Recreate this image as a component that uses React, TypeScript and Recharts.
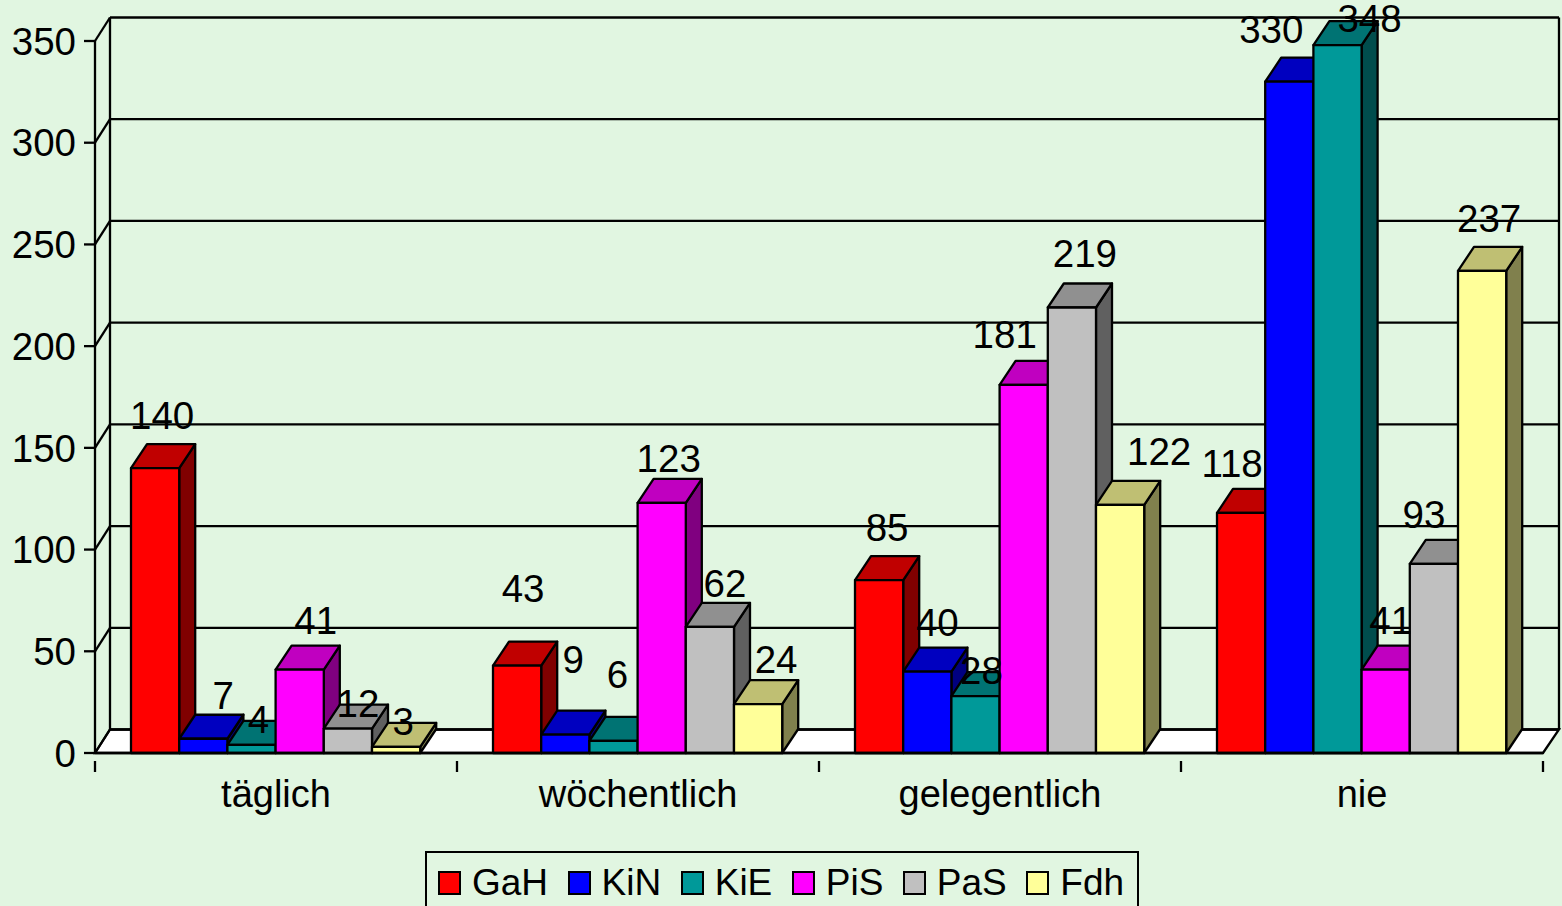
import * as React from 'react';
import { Bar, BarChart, CartesianGrid, LabelList, Legend, XAxis, YAxis } from 'recharts';

const categories = ['täglich', 'wöchentlich', 'gelegentlich', 'nie'];
const seriesNames = ['GaH', 'KiN', 'KiE', 'PiS', 'PaS', 'Fdh'];

const gah = [140, 43, 85, 118];
const kin = [7, 9, 40, 330];
const kie = [4, 6, 28, 348];
const pis = [41, 123, 181, 41];
const pas = [12, 62, 219, 93];
const fdh = [3, 24, 122, 237];

const yTicks = [0, 50, 100, 150, 200, 250, 300, 350];

const data = categories.map((name, i) => ({
  name,
  GaH: gah[i],
  KiN: kin[i],
  KiE: kie[i],
  PiS: pis[i],
  PaS: pas[i],
  Fdh: fdh[i],
}));

const WIDTH = 1562;
const HEIGHT = 906;
const PLOT_LEFT = 95;
const PLOT_RIGHT = 1543;
const PLOT_TOP = 41;
const PLOT_BOTTOM = 753;
const DEPTH_X = 16;
const DEPTH_Y = 24;
const WALL_LEFT = 110;
const WALL_DROP = 23.5;
const BAR_SIZE = 48.2;
const BAND = (PLOT_RIGHT - PLOT_LEFT) / categories.length;
const FONT = '"Liberation Sans", Arial, sans-serif';
const LINE = 2.3;

// front, top and side faces of each series
const faces: Record<string, [string, string, string]> = {
  GaH: ['#FF0000', '#C00000', '#800000'],
  KiN: ['#0000FF', '#0000C0', '#000080'],
  KiE: ['#009999', '#007373', '#004D4D'],
  PiS: ['#FF00FF', '#C000C0', '#800080'],
  PaS: ['#C0C0C0', '#909090', '#606060'],
  Fdh: ['#FFFF99', '#BFBF73', '#80804D'],
};

// Excel left the value labels wherever it liked, so each one gets its own nudge
const labelNudges: Record<string, [number, number][]> = {
  GaH: [[7, -53], [6, -77], [8, -53], [-9, -49]],
  KiN: [[20, -43], [8, -75], [10, -49], [-18, -52]],
  KiE: [[7, -25], [4, -66], [6, -26], [32, -27]],
  PiS: [[16, -49], [7, -44], [-19, -50], [5, -49]],
  PaS: [[10, -25], [15, -43], [13, -54], [-10, -49]],
  Fdh: [[7, -25], [18, -45], [39, -53], [7, -52]],
};

function Bar3D({ x, y, width, height, name }: any) {
  const [front, top, side] = faces[name];
  const right = x + width;
  const bottom = y + height;
  const edge = { stroke: '#000', strokeWidth: LINE, strokeLinejoin: 'round' as const };

  return (
    <g>
      <polygon
        points={`${right},${bottom} ${right + DEPTH_X},${bottom - DEPTH_Y} ${right + DEPTH_X},${y - DEPTH_Y} ${right},${y}`}
        fill={side}
        {...edge}
      />
      <polygon
        points={`${x},${y} ${x + DEPTH_X},${y - DEPTH_Y} ${right + DEPTH_X},${y - DEPTH_Y} ${right},${y}`}
        fill={top}
        {...edge}
      />
      <rect x={x} y={y} width={width} height={height} fill={front} {...edge} />
    </g>
  );
}

// one back-wall gridline plus its step across the side wall
function GridLine({ x1, y1, x2 }: any) {
  const line = { stroke: '#000', strokeWidth: LINE };
  const isFloor = Math.abs(y1 - PLOT_BOTTOM) < 1;
  const back = y1 - WALL_DROP;
  const wallRight = x2 + DEPTH_X;

  return (
    <g>
      {isFloor && (
        <>
          <polygon points={`${x1},${y1} ${WALL_LEFT},${back} ${wallRight},${back} ${x2},${y1}`} fill="#fff" {...line} />
          <line x1={WALL_LEFT} y1={PLOT_TOP - WALL_DROP} x2={WALL_LEFT} y2={back} {...line} />
          <line x1={wallRight} y1={PLOT_TOP - WALL_DROP} x2={wallRight} y2={back} {...line} />
        </>
      )}
      <line x1={x1} y1={y1} x2={WALL_LEFT} y2={back} {...line} />
      <line x1={WALL_LEFT} y1={back} x2={wallRight} y2={back} {...line} />
    </g>
  );
}

// category ticks sit on the band edges, not the centres
function CategoryTick({ x, y, payload, index }: any) {
  const left = x - BAND / 2;
  const mark = { stroke: '#000', strokeWidth: LINE };

  return (
    <g>
      <line x1={left} y1={y} x2={left} y2={y + 11} {...mark} />
      {index === categories.length - 1 && (
        <line x1={left + BAND} y1={y} x2={left + BAND} y2={y + 11} {...mark} />
      )}
      <text x={x} y={794} textAnchor="middle" dominantBaseline="central" fontSize={38} fontFamily={FONT} fill="#000">
        {payload.value}
      </text>
    </g>
  );
}

function ValueLabel({ x, y, width, value, index, name }: any) {
  const [dx, dy] = labelNudges[name][index];

  return (
    <text
      x={x + width / 2 + dx}
      y={y + dy}
      textAnchor="middle"
      dominantBaseline="central"
      fontSize={38.5}
      fontFamily={FONT}
      fill="#000"
    >
      {value}
    </text>
  );
}

function LegendBox({ payload }: any) {
  const items = (payload ?? []).filter((item: any) => item.type !== 'none');

  return (
    <div
      style={{
        boxSizing: 'border-box',
        width: 714,
        height: 80,
        border: `${LINE}px solid #000`,
        paddingLeft: 11,
        paddingTop: 17,
        display: 'flex',
        alignItems: 'flex-start',
        fontFamily: FONT,
        fontSize: 37,
        lineHeight: '25px',
        color: '#000',
      }}
    >
      {items.map((item: any) => (
        <div key={item.value} style={{ display: 'flex', alignItems: 'center', marginRight: 19.5 }}>
          <span
            style={{
              boxSizing: 'border-box',
              width: 23,
              height: 24,
              marginRight: 11,
              border: '2px solid #000',
              background: item.color,
            }}
          />
          {item.value}
        </div>
      ))}
    </div>
  );
}

export default function App() {
  return (
    <div
      style={{
        position: 'absolute',
        left: 0,
        top: 0,
        width: WIDTH,
        height: HEIGHT,
        overflow: 'hidden',
        background: '#E1F6E1',
      }}
    >
      <BarChart
        width={WIDTH}
        height={HEIGHT}
        data={data}
        barGap={0}
        barSize={BAR_SIZE}
        margin={{ left: PLOT_LEFT - 70, right: WIDTH - PLOT_RIGHT, top: PLOT_TOP, bottom: 0 }}
      >
        <CartesianGrid horizontal={(props: any) => <GridLine key={props.y1} {...props} />} vertical={false} />
        <XAxis
          dataKey="name"
          height={HEIGHT - PLOT_BOTTOM}
          tickLine={false}
          axisLine={{ stroke: '#000', strokeWidth: LINE }}
          tick={<CategoryTick />}
          interval={0}
        />
        <YAxis
          width={70}
          domain={[0, 350]}
          ticks={yTicks}
          tickSize={11}
          tickMargin={8}
          interval={0}
          axisLine={{ stroke: '#000', strokeWidth: LINE }}
          tickLine={{ stroke: '#000', strokeWidth: LINE }}
          tick={{ fill: '#000', fontSize: 38.5, fontFamily: FONT }}
        />
        <XAxis xAxisId="labels" dataKey="name" hide />
        <YAxis yAxisId="labels" domain={[0, 350]} hide />
        {seriesNames.map((name) => (
          <Bar
            key={name}
            dataKey={name}
            fill={faces[name][0]}
            isAnimationActive={false}
            shape={(props: any) => <Bar3D {...props} name={name} />}
          />
        ))}
        {/* second, invisible set of bars so the labels sit above every bar */}
        {seriesNames.map((name) => (
          <Bar
            key={`${name}-labels`}
            dataKey={name}
            xAxisId="labels"
            yAxisId="labels"
            fill="none"
            legendType="none"
            isAnimationActive={false}
          >
            <LabelList dataKey={name} content={(props: any) => <ValueLabel {...props} name={name} />} />
          </Bar>
        ))}
        <Legend
          verticalAlign="middle"
          itemSorter={null}
          content={<LegendBox />}
          wrapperStyle={{ left: 425, top: 851, bottom: 'auto', width: 714 }}
        />
      </BarChart>
    </div>
  );
}
